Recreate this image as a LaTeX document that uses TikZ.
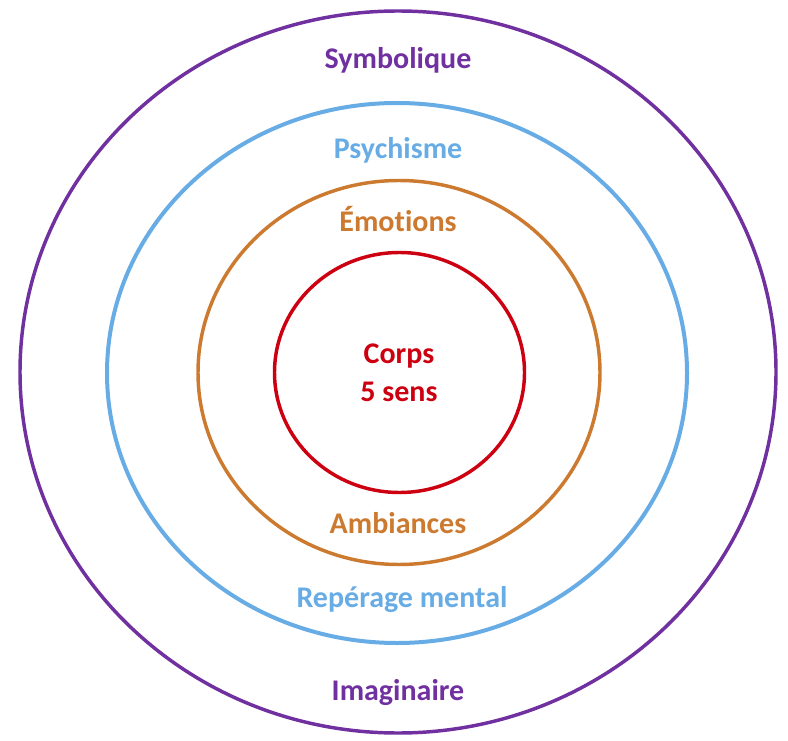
\documentclass[tikz,border=0pt]{standalone}
\usepackage{fontspec}
\setmainfont{Carlito}[Ligatures=CommonOff]
\usepackage{tikz}

\definecolor{symbcol}{RGB}{112,48,160}
\definecolor{psycol}{RGB}{104,172,230}
\definecolor{emocol}{RGB}{204,122,48}
\definecolor{corpscol}{RGB}{204,0,16}

\begin{document}
\begin{tikzpicture}[x=0.75pt,y=0.75pt,yscale=-1,xscale=1,
  ring/.style={line width=2.6pt},
  lbl/.style={anchor=base,inner sep=0.75pt,font=\bfseries\fontsize{22.5}{28}\selectfont}]
\path (0,0) rectangle (788,741); %set diagram to the size of the reference

%Ellipses
\draw [ring,symbcol] (398,372) ellipse (378 and 361);
\draw [ring,psycol,line width=3pt] (397,373) ellipse (290 and 270);
\draw [ring,emocol] (399,372.5) ellipse (201 and 192);
\draw [ring,corpscol] (399.5,372.5) ellipse (125 and 120);

% Text Node
\node [lbl,text=symbcol] (symb) at (398,69) {Symbolique};
% Text Node
\node [lbl,text=psycol] (psy) at (398,159) {Psychisme};
% Text Node
\node [lbl,text=emocol] (emo) at (398,232) {Émotions};
% Text Node
\node [lbl,text=corpscol,align=center,anchor=north] (corps) at (399,343) {Corps\\5 sens};
% Text Node
\node [lbl,text=emocol] (amb) at (398,533) {Ambiances};
% Text Node
\node [lbl,text=psycol] (rep) at (402,607) {Repérage mental};
% Text Node
\node [lbl,text=symbcol] (imag) at (398,700) {Imaginaire};

\end{tikzpicture}
\end{document}
